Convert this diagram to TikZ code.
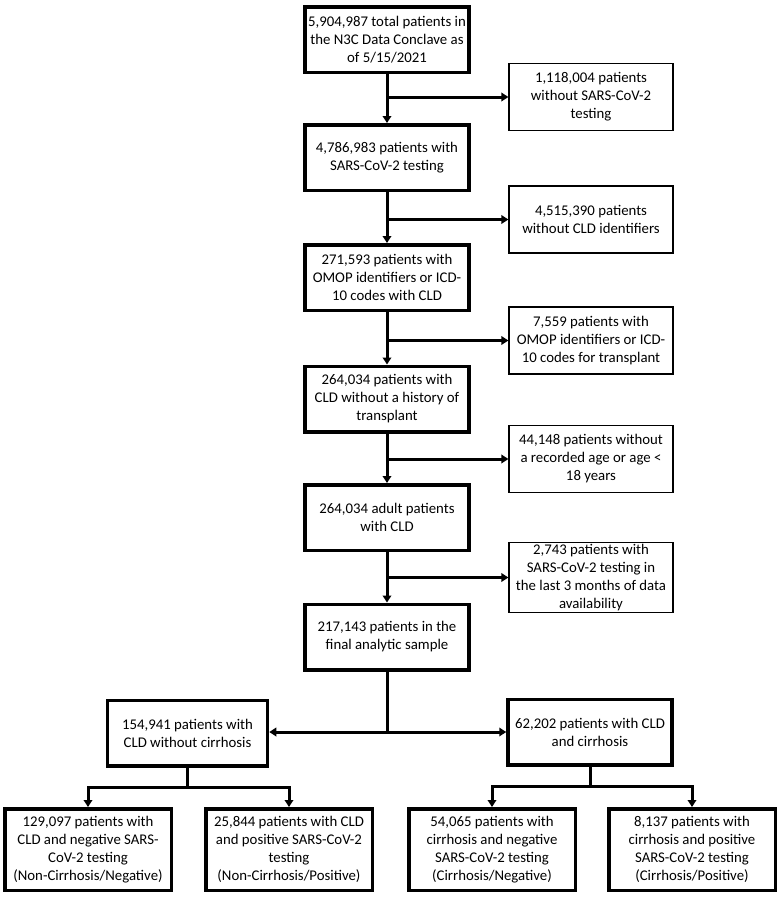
\documentclass[tikz,border=0pt]{standalone}
\usepackage{fontspec}
\setmainfont{Carlito}
\usetikzlibrary{arrows.meta,calc}

\tikzset{
    boxtext/.style={align=center, inner sep=2pt, font=\fontsize{14.8}{18}\selectfont},
    mainbox/.style={boxtext, draw, line width=3.5pt, minimum width=164pt, minimum height=65.5pt},
    sidebox/.style={boxtext, draw, line width=1.2pt, minimum width=164pt, minimum height=67pt},
    leafbox/.style={mainbox, minimum width=166.5pt, minimum height=81.5pt},
    link/.style={line width=3pt},
    flow/.style={link, -{Triangle[length=7pt,width=8.5pt]}}
}

\begin{document}
\begin{tikzpicture}[x=1pt, y=-1pt]
    \useasboundingbox (0, 0) rectangle (781, 900);

    % main column
    \node[mainbox] (total) at (387, 39.5) {5,904,987 total patients in\\the N3C Data Conclave as\\of 5/15/2021};
    \node[mainbox] (tested) at (387, 157.5) {4,786,983 patients with\\SARS-CoV-2 testing};
    \node[mainbox] (cld) at (387, 277.5) {271,593 patients with\\OMOP identifiers or ICD-\\10 codes with CLD};
    \node[mainbox] (notx) at (387, 399) {264,034 patients with\\CLD without a history of\\transplant};
    \node[mainbox] (adult) at (387, 517.5) {264,034 adult patients\\with CLD};
    \node[mainbox] (final) at (387, 637) {217,143 patients in the\\final analytic sample};

    % exclusions
    \node[sidebox] (nottested) at (591, 97) {1,118,004 patients\\without SARS-CoV-2\\testing};
    \node[sidebox] (nocld) at (591, 219.5) {4,515,390 patients\\without CLD identifiers};
    \node[sidebox] (transplant) at (591, 340.5) {7,559 patients with\\OMOP identifiers or ICD-\\10 codes for transplant};
    \node[sidebox] (noage) at (591, 459) {44,148 patients without\\a recorded age or age <\\18 years};
    \node[sidebox] (late) at (591, 577.5) {2,743 patients with\\SARS-CoV-2 testing in\\the last 3 months of data\\availability};

    % cirrhosis split
    \node[mainbox, minimum width=160pt] (noncirr) at (187.5, 733) {154,941 patients with\\CLD without cirrhosis};
    \node[mainbox] (cirr) at (590, 732) {62,202 patients with CLD\\and cirrhosis};

    % outcome groups
    \node[leafbox] (ncneg) at (88, 849.5) {129,097 patients with\\CLD and negative SARS-\\CoV-2 testing\\(Non-Cirrhosis/Negative)};
    \node[leafbox] (ncpos) at (289, 849.5) {25,844 patients with CLD\\and positive SARS-CoV-2\\testing\\(Non-Cirrhosis/Positive)};
    \node[leafbox] (cneg) at (492, 849.5) {54,065 patients with\\cirrhosis and negative\\SARS-CoV-2 testing\\(Cirrhosis/Negative)};
    \node[leafbox] (cpos) at (692, 849.5) {8,137 patients with\\cirrhosis and positive\\SARS-CoV-2 testing\\(Cirrhosis/Positive)};

    \coordinate (split) at (final.south |- cirr.west);
    \coordinate (ncsplit) at ($(noncirr.south)+(0, 20)$);
    \coordinate (csplit) at ($(cirr.south)+(0, 20)$);

    % connectors
    \draw[flow] (total) -- (tested);
    \draw[flow] (tested) -- (cld);
    \draw[flow] (cld) -- (notx);
    \draw[flow] (notx) -- (adult);
    \draw[flow] (adult) -- (final);
    \draw[flow] (total.south |- nottested) -- (nottested);
    \draw[flow] (tested.south |- nocld) -- (nocld);
    \draw[flow] (cld.south |- transplant) -- (transplant);
    \draw[flow] (notx.south |- noage) -- (noage);
    \draw[flow] (adult.south |- late) -- (late);

    \draw[link] (final) -- (split);
    \draw[flow] (split) -- (noncirr.east |- split);
    \draw[flow] (split) -- (cirr);

    \draw[link] (noncirr) -- (ncsplit);
    \draw[flow] (ncsplit) -| (ncneg);
    \draw[flow] (ncsplit) -| (ncpos);
    \draw[link] (cirr) -- (csplit);
    \draw[flow] (csplit) -| (cneg);
    \draw[flow] (csplit) -| (cpos);
\end{tikzpicture}
\end{document}
